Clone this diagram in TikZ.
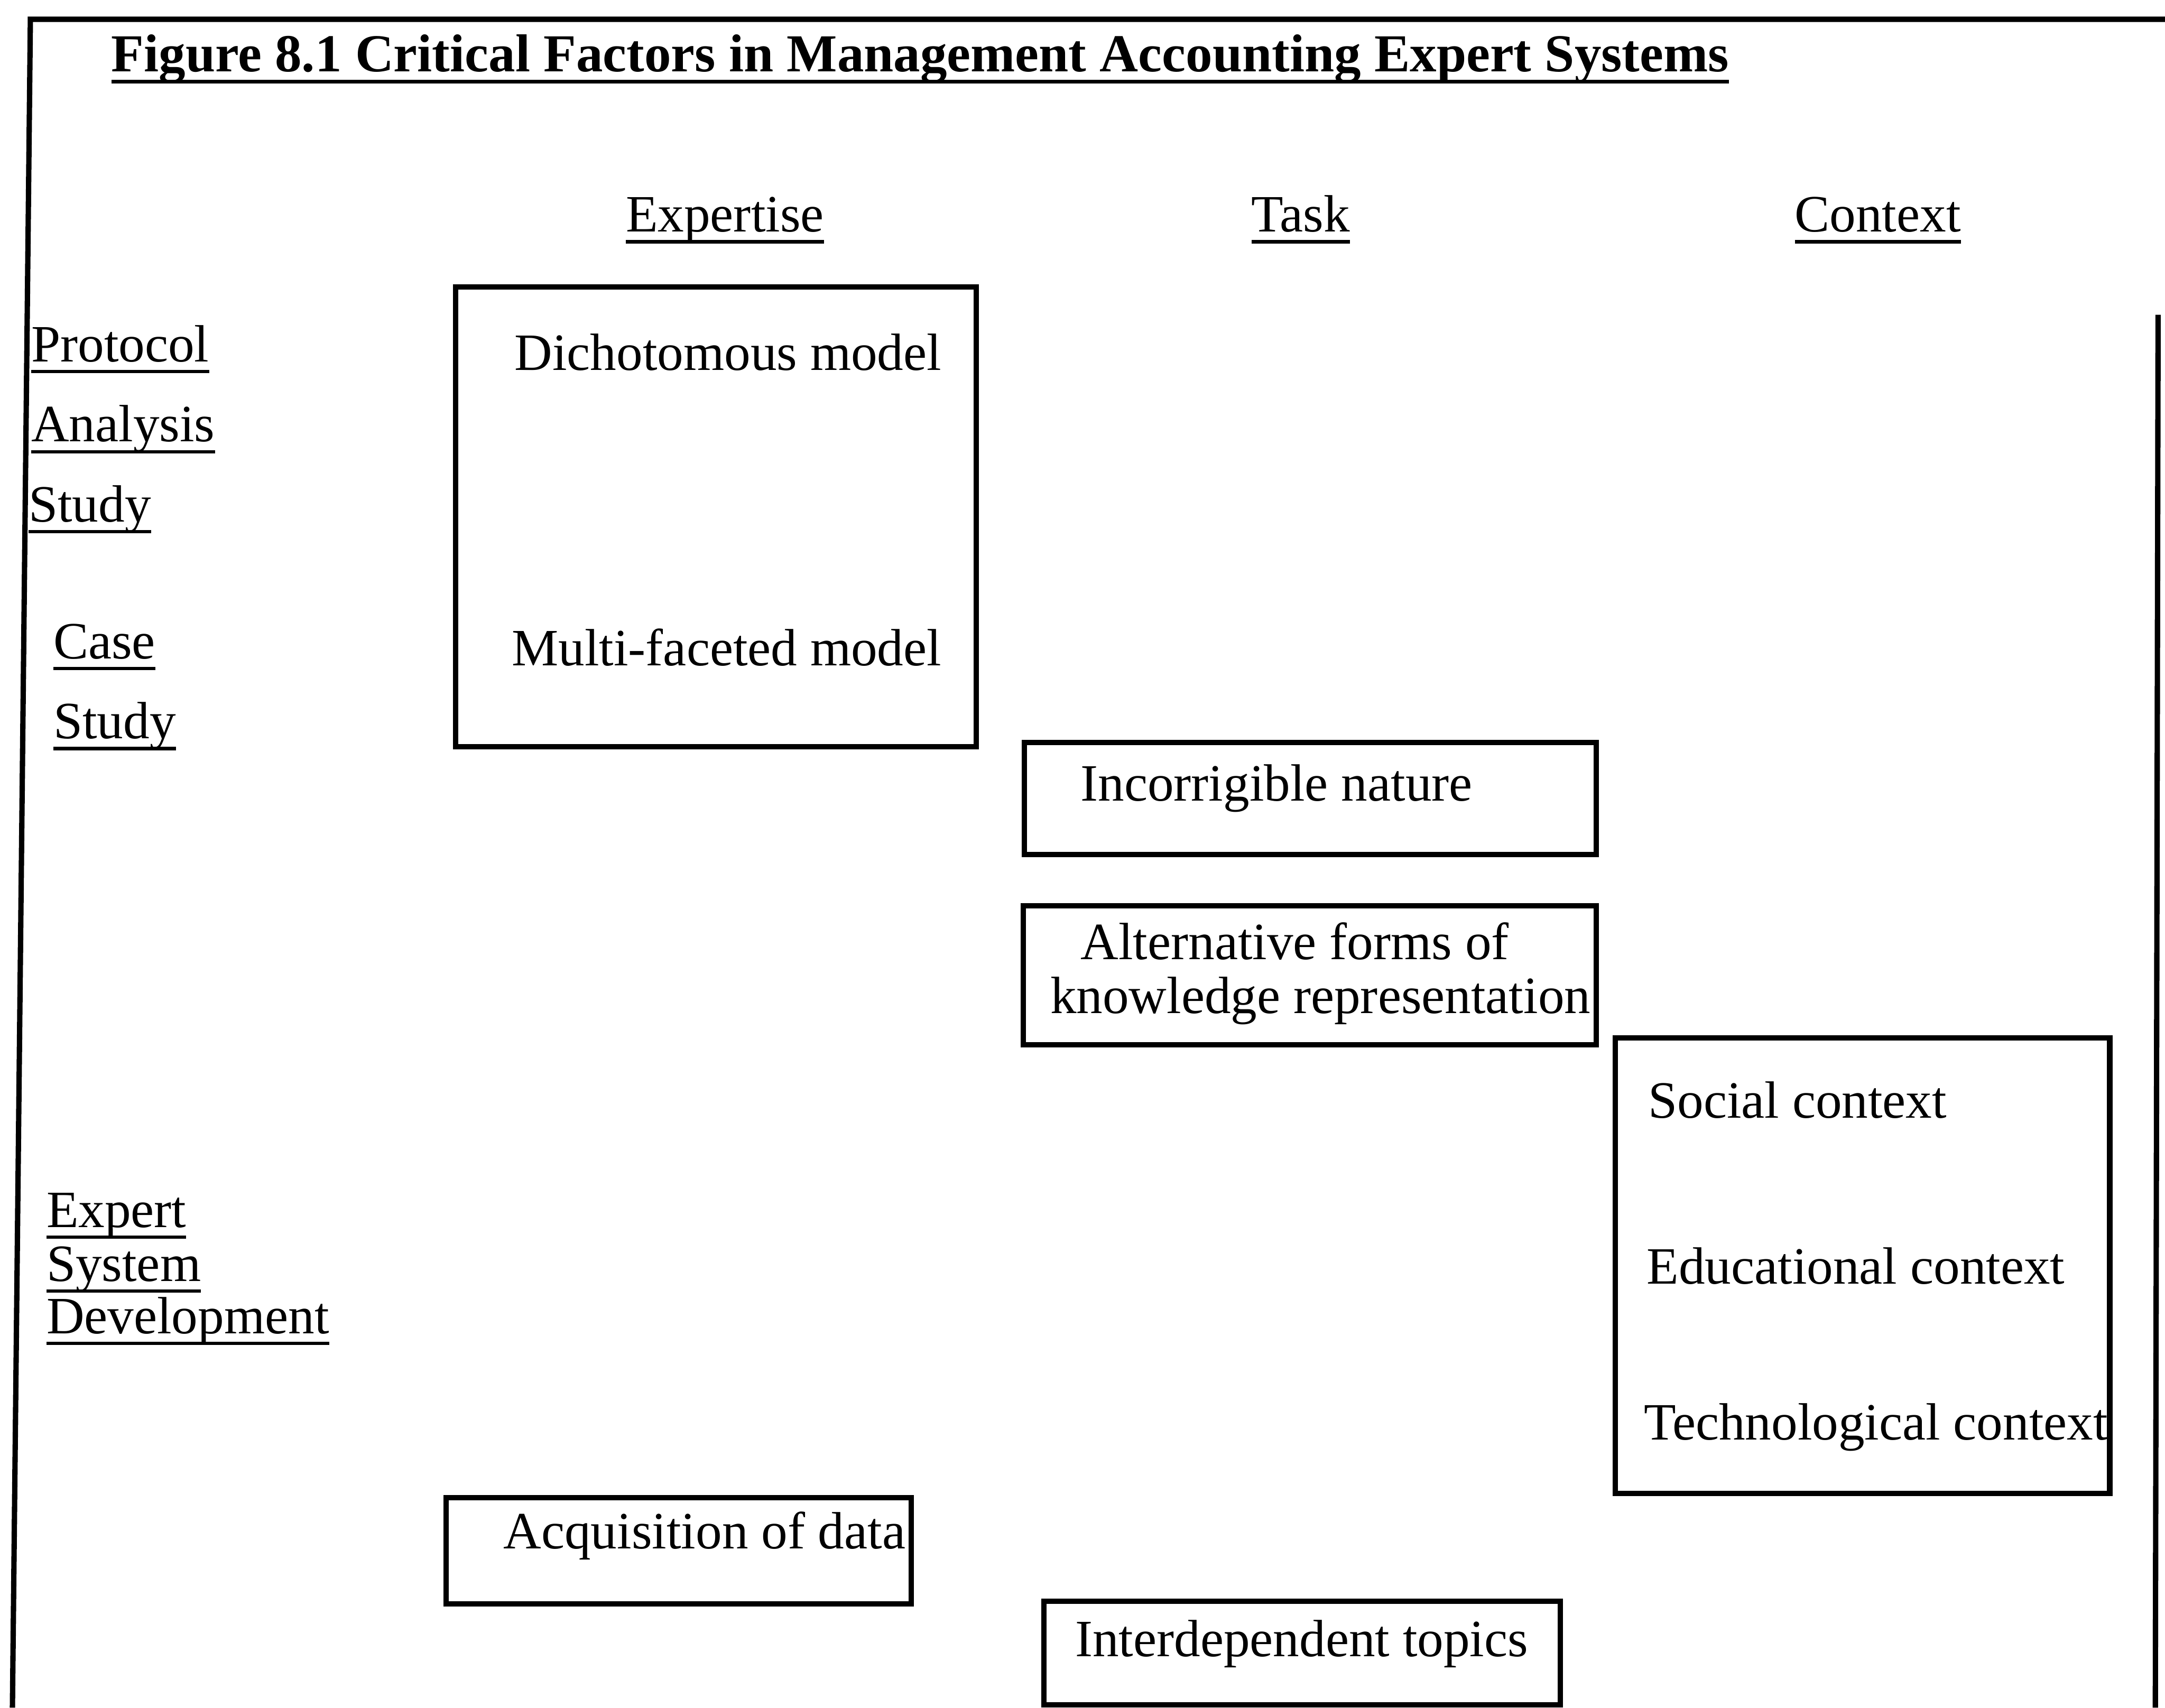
\documentclass[tikz,border=0pt]{standalone}
\usepackage{fontspec}
\setmainfont{Liberation Serif}
\newcommand{\undl}[1]{\setbox0=\hbox{#1}\rlap{\rule[-2.4pt]{\wd0}{0.7pt}}\box0}
\begin{document}
\begin{tikzpicture}[x=0.01cm,y=-0.01cm,
  lbl/.style={anchor=base west,inner sep=0pt,font=\fontsize{10.8}{13}\selectfont},
  head/.style={lbl,anchor=base},
  boxline/.style={line width=1.1pt}]
  \useasboundingbox (0,0) rectangle (1568,1237);
  % frame
  \draw[line width=1.1pt] (1568,14)--(22,14)--(9,1237);
  \draw[line width=1.1pt] (1563,228)--(1561,1237);
  \node[lbl,font=\bfseries\fontsize{11}{13}\selectfont] (title) at (80,52)
    {\undl{Figure 8.1 Critical Factors in Management Accounting Expert Systems}};
  % column heads
  \node[head] (expertise) at (525,168) {\undl{Expertise}};
  \node[head] (task) at (942,168) {\undl{Task}};
  \node[head] (context) at (1360,168) {\undl{Context}};
  % row labels
  \node[lbl] (protocol) at (22,262) {\undl{Protocol}};
  \node[lbl] (analysis) at (22,320) {\undl{Analysis}};
  \node[lbl] (pstudy) at (20,378) {\undl{Study}};
  \node[lbl] (case) at (38,477) {\undl{Case}};
  \node[lbl] (cstudy) at (38,535) {\undl{Study}};
  \node[lbl] (expert) at (33,889) {\undl{Expert}};
  \node[lbl] (system) at (33,928) {\undl{System}};
  \node[lbl] (devel) at (33,966) {\undl{Development}};
  % boxes
  \draw[boxline] (330,208) rectangle (707,541);
  \draw[boxline] (742,538) rectangle (1156,619);
  \draw[boxline] (741,656) rectangle (1156,757);
  \draw[boxline] (1170,752) rectangle (1528,1082);
  \draw[boxline] (323,1085) rectangle (660,1162);
  \draw[boxline] (756,1160) rectangle (1130,1235);
  % box texts
  \node[lbl] (dicho) at (372,268) {Dichotomous model};
  \node[lbl] (multi) at (370,482) {Multi-faceted model};
  \node[lbl] (incorr) at (782,580) {Incorrigible nature};
  \node[lbl] (altern) at (782,695) {Alternative forms of};
  \node[lbl] (knowl) at (760,734) {knowledge representation};
  \node[lbl] (social) at (1193,810) {Social context};
  \node[lbl] (educ) at (1192,930) {Educational context};
  \node[lbl] (techno) at (1190,1043) {Technological context};
  \node[lbl] (acquis) at (364,1122) {Acquisition of data};
  \node[lbl] (interd) at (778,1200) {Interdependent topics};
\end{tikzpicture}
\end{document}
